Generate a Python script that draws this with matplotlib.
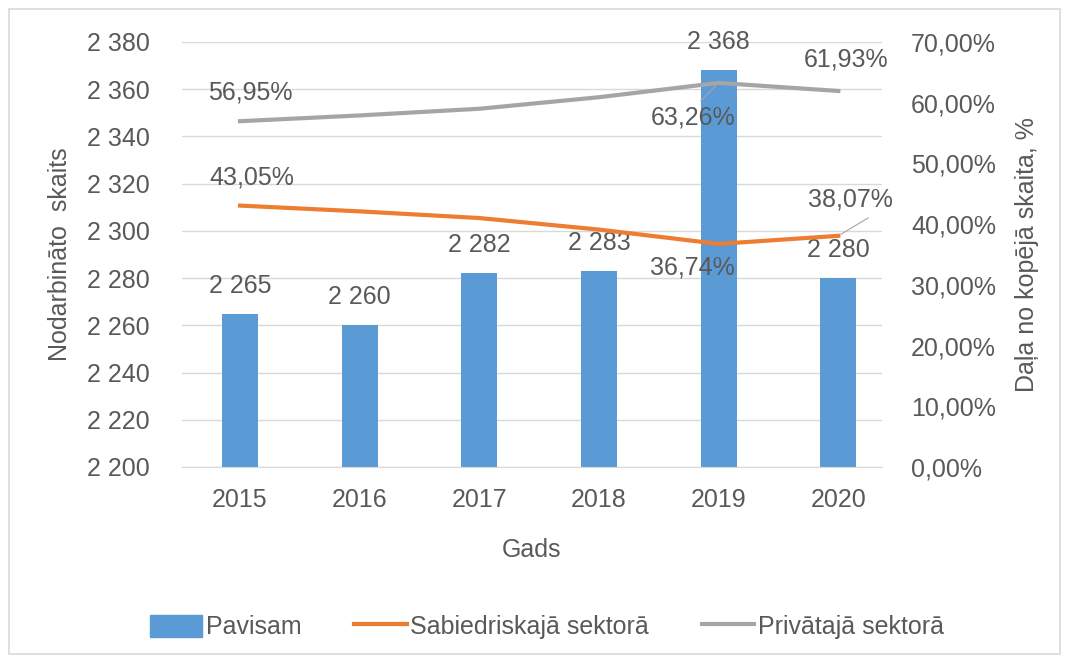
import matplotlib
matplotlib.use("Agg")
import matplotlib.pyplot as plt
from matplotlib.ticker import FuncFormatter
from matplotlib.patches import Rectangle, Patch

years = ["2015", "2016", "2017", "2018", "2019", "2020"]
total = [2265, 2260, 2282, 2283, 2368, 2280]
public_share = [43.05, 42.1, 41.0, 39.1, 36.74, 38.07]
private_share = [56.95, 57.9, 59.0, 60.9, 63.26, 61.93]
public_labeled = {0: "43,05%", 4: "36,74%", 5: "38,07%"}
private_labeled = {0: "56,95%", 4: "63,26%", 5: "61,93%"}

fam = ['Liberation Sans', 'DejaVu Sans']
plt.rcParams['font.family'] = fam
txt = '#595959'
fs = 18

fig = plt.figure(figsize=(10.66, 6.62), dpi=100)
fig.patches.append(Rectangle((0.008, 0.012), 0.986, 0.975, transform=fig.transFigure,
                             fill=False, edgecolor='#d9d9d9', lw=1.2))
ax = fig.add_axes([0.1707, 0.2946, 0.6567, 0.642])
ax2 = ax.twinx()

x = list(range(len(years)))
ax.bar(x, total, width=0.30, color='#5b9bd5', zorder=2)
ax.set_ylim(2200, 2380)
ax.set_yticks(range(2200, 2381, 20))
ax.yaxis.set_major_formatter(FuncFormatter(lambda v, p: f"{int(v):,}".replace(",", " ")))
ax.set_xlim(-0.485, 5.365)
ax.set_xticks(x)
ax.set_xticklabels(years)
ax.grid(axis='y', color='#d9d9d9', lw=1, zorder=0)
ax.set_axisbelow(True)
for s in ax.spines.values():
    s.set_visible(False)
for s in ax2.spines.values():
    s.set_visible(False)
ax.spines['bottom'].set_visible(True)
ax.spines['bottom'].set_color('#d9d9d9')
ax.tick_params(axis='y', length=0, labelsize=fs, labelcolor=txt, pad=23)
ax.tick_params(axis='x', length=0, labelsize=fs, labelcolor=txt, pad=15)
ax.set_xlabel("Gads", fontsize=fs, color=txt)
ax.xaxis.set_label_coords(0.5, -0.168)
ax.set_ylabel("Nodarbināto  skaits", fontsize=fs, color=txt)
ax.yaxis.set_label_coords(-0.157, 0.5)

ax2.plot(x, public_share, color='#ed7d31', lw=3, label="Sabiedriskajā sektorā", zorder=3)
ax2.plot(x, private_share, color='#a5a5a5', lw=3, label="Privātajā sektorā", zorder=3)
ax2.set_ylim(0, 70)
ax2.set_yticks(range(0, 71, 10))
ax2.yaxis.set_major_formatter(FuncFormatter(lambda v, p: f"{v:.2f}%".replace(".", ",")))
ax2.tick_params(length=0, labelsize=fs, labelcolor=txt, pad=21)
ax2.set_ylabel("Daļa no kopējā skaita, %", fontsize=fs, color=txt)
ax2.yaxis.set_label_coords(1.19, 0.5)

# bar labels
for i, v in enumerate(total):
    ax.annotate(f"{v:,}".replace(",", " "), (i, v), xytext=(0, 28), textcoords='offset pixels',
                ha='center', va='center', fontsize=fs, color=txt, zorder=5)

# line labels (offsets in pixels)
pub_off = {0: (12, 28), 4: (-26, -24), 5: (12, 36)}
pri_off = {0: (10, 29), 4: (-26, -35), 5: (8, 31)}
for i, lab in public_labeled.items():
    dx, dy = pub_off[i]
    ax2.annotate(lab, (i, public_share[i]), xytext=(dx, dy), textcoords='offset pixels',
                 ha='center', va='center', fontsize=fs, color=txt, zorder=5)
for i, lab in private_labeled.items():
    dx, dy = pri_off[i]
    ax2.annotate(lab, (i, private_share[i]), xytext=(dx, dy), textcoords='offset pixels',
                 ha='center', va='center', fontsize=fs, color=txt, zorder=5)
ax2.annotate("", (5, public_share[5]), xytext=(30, 18), textcoords='offset pixels',
             arrowprops=dict(arrowstyle='-', color='#a6a6a6', lw=0.8, shrinkA=0, shrinkB=2))
ax2.annotate("", (4, private_share[4]), xytext=(-18, -18), textcoords='offset pixels',
             arrowprops=dict(arrowstyle='-', color='#a6a6a6', lw=0.8, shrinkA=0, shrinkB=2))

handles = [Patch(color='#5b9bd5')] + ax2.get_legend_handles_labels()[0]
labels = ["Pavisam"] + ax2.get_legend_handles_labels()[1]
fig.legend(handles, labels, loc='center', bbox_to_anchor=(0.513, 0.053), ncol=3,
           frameon=False, fontsize=fs, labelcolor=txt, handlelength=2.1, handleheight=1.0,
           handletextpad=0.15, columnspacing=2.1)

fig.savefig("out.png", dpi=100)
